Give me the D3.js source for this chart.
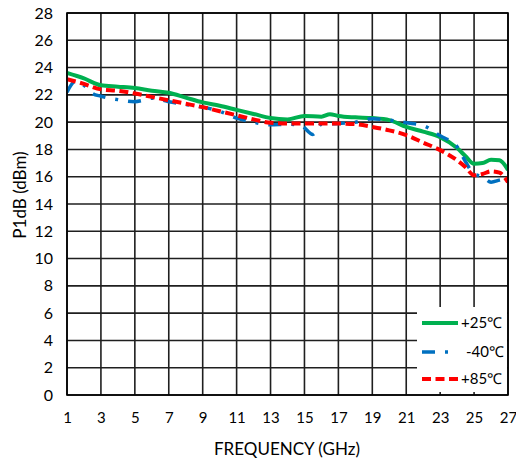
<!DOCTYPE html>
<html>
<head>
<meta charset="utf-8">
<script src="https://cdn.jsdelivr.net/npm/d3@7"></script>
<style>
  html, body { margin: 0; padding: 0; background: #fff; }
  svg { display: block; font-family: Lato, "Open Sans", sans-serif; }
</style>
</head>
<body>
<svg id="chart" width="516" height="462"></svg>
<script>
// Tick values
const xTicks = [1, 3, 5, 7, 9, 11, 13, 15, 17, 19, 21, 23, 25, 27];
const yTicks = [0, 2, 4, 6, 8, 10, 12, 14, 16, 18, 20, 22, 24, 26, 28];

// P1dB (dBm) vs frequency (GHz), one array per temperature
const freq25 = [1, 2, 3, 4, 5, 6, 7, 8, 9, 10, 11, 12, 13, 14, 15, 16, 16.5, 17, 18, 19, 20, 21, 22, 23, 24, 24.5, 25, 25.5, 26, 26.5, 27];
const p1db25 = [23.6, 23.2, 22.7, 22.6, 22.5, 22.3, 22.15, 21.8, 21.45, 21.2, 20.9, 20.6, 20.3, 20.2, 20.45, 20.4, 20.58, 20.45, 20.35, 20.3, 20.15, 19.65, 19.3, 18.9, 18.1, 17.5, 16.95, 17.0, 17.25, 17.2, 16.5];

const freqM40 = [1, 1.5, 2, 2.5, 3, 4, 5, 5.5, 6, 7, 8, 9, 10, 11, 12, 13, 14, 14.8, 15.5, 16, 17, 18, 19, 20, 21, 22, 23, 24, 24.5, 25, 25.5, 26, 26.5, 27];
const p1dbM40 = [22.2, 23.0, 22.7, 22.1, 21.9, 21.65, 21.5, 21.6, 21.75, 21.5, 21.3, 21.1, 20.8, 20.3, 20.0, 19.8, 19.85, 19.75, 19.1, 19.85, 19.9, 20.0, 20.25, 20.15, 19.95, 19.75, 19.0, 18.2, 17.1, 16.2, 16.0, 15.6, 15.75, 15.9];

const freq85 = [1, 2, 3, 4, 5, 6, 7, 8, 9, 10, 11, 12, 13, 14, 15, 16, 17, 18, 19, 20, 21, 22, 23, 24, 24.5, 25, 25.5, 26, 26.5, 27];
const p1db85 = [23.15, 22.8, 22.4, 22.3, 22.1, 21.85, 21.6, 21.35, 21.1, 20.8, 20.5, 20.2, 19.95, 19.9, 19.9, 19.9, 19.9, 19.85, 19.65, 19.4, 19.05, 18.5, 17.95, 17.2, 16.7, 16.1, 16.2, 16.4, 16.3, 15.6];

const seriesNames = ["+25\u2103", "-40\u2103", "+85\u2103"];

const series = [
  { name: seriesNames[0], x: freq25, y: p1db25, color: "#00B050", width: 4, dash: null },
  { name: seriesNames[1], x: freqM40, y: p1dbM40, color: "#0070C0", width: 3.5, dash: "13,10,3,10" },
  { name: seriesNames[2], x: freq85, y: p1db85, color: "#FF0000", width: 4, dash: "9,4.5" }
];

const svg = d3.select("#chart");
const plotL = 67, plotR = 508, plotT = 13, plotB = 395;

const x = d3.scaleLinear().domain([1, 27]).range([plotL, plotR]);
const y = d3.scaleLinear().domain([0, 28]).range([plotB, plotT]);

const gridColor = "#1f1f1f";

// Grid lines
const grid = svg.append("g");
grid.selectAll("line.v").data(xTicks).join("line")
  .attr("class", "v")
  .attr("x1", d => x(d)).attr("x2", d => x(d))
  .attr("y1", plotT).attr("y2", plotB)
  .attr("stroke", gridColor).attr("stroke-width", 1.6);
grid.selectAll("line.h").data(yTicks).join("line")
  .attr("class", "h")
  .attr("x1", plotL).attr("x2", plotR)
  .attr("y1", d => y(d)).attr("y2", d => y(d))
  .attr("stroke", gridColor).attr("stroke-width", 1.6);

// Axes (labels only, the grid carries the lines)
const xAxis = svg.append("g")
  .attr("transform", `translate(0,${plotB})`)
  .call(d3.axisBottom(x).tickValues(xTicks).tickSize(0).tickPadding(17).tickFormat(d3.format("d")));
const yAxis = svg.append("g")
  .attr("transform", `translate(${plotL},0)`)
  .call(d3.axisLeft(y).tickValues(yTicks).tickSize(0).tickPadding(14).tickFormat(d3.format("d")));
[xAxis, yAxis].forEach(a => {
  a.select(".domain").remove();
  a.selectAll("text").attr("fill", "#000")
    .attr("font-family", "Lato, 'Open Sans', sans-serif");
});
xAxis.selectAll("text").attr("font-size", 15);
yAxis.selectAll("text").attr("font-size", 16);

// Data lines, clipped to the plot area
svg.append("clipPath").attr("id", "plotClip")
  .append("rect").attr("x", plotL).attr("y", plotT).attr("width", plotR - plotL).attr("height", plotB - plotT);

const line = d3.line()
  .x(d => x(d[0])).y(d => y(d[1]))
  .curve(d3.curveMonotoneX);

const lines = svg.append("g").attr("clip-path", "url(#plotClip)");
series.forEach(s => {
  const pts = s.x.map((f, i) => [f, s.y[i]]);
  lines.append("path")
    .datum(pts)
    .attr("d", line)
    .attr("fill", "none")
    .attr("stroke", s.color)
    .attr("stroke-width", s.width)
    .attr("stroke-dasharray", s.dash)
    .attr("stroke-linejoin", "round");
});

// Legend
const legend = svg.append("g");
legend.append("rect")
  .attr("x", 417).attr("y", 307).attr("width", plotR - 417 - 1).attr("height", plotB - 307 - 3)
  .attr("fill", "#fff");
const legY = [323, 352, 379];
series.forEach((s, i) => {
  legend.append("line")
    .attr("x1", 422).attr("x2", 458)
    .attr("y1", legY[i]).attr("y2", legY[i])
    .attr("stroke", s.color).attr("stroke-width", s.width)
    .attr("stroke-dasharray", s.dash);
  legend.append("text")
    .attr("x", i === 1 ? 466 : 461).attr("y", legY[i])
    .attr("dy", "0.35em")
    .attr("font-size", 15)
    .attr("fill", "#000")
    .text(s.name);
});

// Plot frame
svg.append("rect")
  .attr("x", plotL).attr("y", plotT).attr("width", plotR - plotL).attr("height", plotB - plotT)
  .attr("fill", "none").attr("stroke", "#000").attr("stroke-width", 1.6);

// Axis titles
svg.append("text")
  .attr("x", 287).attr("y", 449).attr("dy", "0.35em")
  .attr("text-anchor", "middle").attr("font-size", 17).attr("fill", "#000")
  .text("FREQUENCY (GHz)");
svg.append("text")
  .attr("transform", "translate(20,195) rotate(-90)")
  .attr("dy", "0.35em")
  .attr("text-anchor", "middle").attr("font-size", 17).attr("fill", "#000")
  .text("P1dB (dBm)");
</script>
</body>
</html>
